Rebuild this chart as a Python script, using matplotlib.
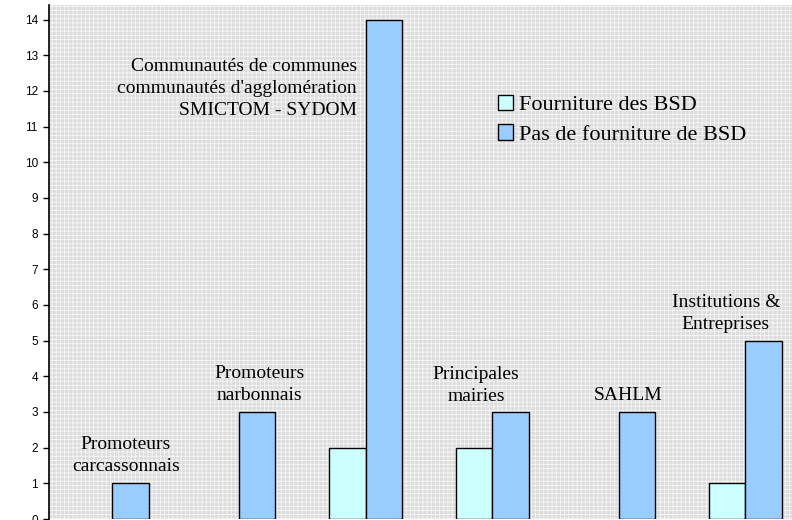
import matplotlib.pyplot as plt
import numpy as np
from matplotlib.patches import Patch

groupes = ["Promoteurs\ncarcassonnais", "Promoteurs\nnarbonnais",
           "Communautés de communes\ncommunautés d'agglomération\nSMICTOM - SYDOM",
           "Principales\nmairies", "SAHLM", "Institutions &\nEntreprises"]
fourniture = [0, 0, 2, 2, 0, 1]
pas_fourniture = [1, 3, 14, 3, 3, 5]
series = ["Fourniture des BSD", "Pas de fourniture de BSD"]
couleurs = ["#ccffff", "#99ccff"]

plt.rcParams['hatch.linewidth'] = 0.6
fig = plt.figure(figsize=(7.92, 5.2), dpi=100)
ax = fig.add_axes([49 / 792, 1 / 520, 1 - 49 / 792, 514 / 520])
ax.set_facecolor("#dcdcdc")
ax.patch.set_hatch("++++")
ax.patch.set_edgecolor("#f6f6f6")

x = np.arange(len(groupes))
w = 0.288
# pas de contour pour les barres nulles
lw0 = [1 if v else 0 for v in fourniture]
lw1 = [1 if v else 0 for v in pas_fourniture]
ax.bar(x - w / 2, fourniture, w, color=couleurs[0], edgecolor='black', linewidth=lw0, zorder=3)
ax.bar(x + w / 2, pas_fourniture, w, color=couleurs[1], edgecolor='black', linewidth=lw1, zorder=3)

# étiquettes des groupes, posées à la main au-dessus des barres
pos_txt = [(0.108, 1.79, 'center'), (1.159, 3.78, 'center'), (1.933, 12.08, 'right'),
           (2.873, 3.73, 'center'), (4.073, 3.45, 'center'), (4.847, 5.75, 'center')]
for g, (tx, ty, ha) in zip(groupes, pos_txt):
    ax.text(tx, ty, g, ha=ha, va='center', multialignment=ha, fontsize=14,
            family='Liberation Serif', linespacing=1.38, zorder=4)

ax.set_xlim(-0.5, -0.5 + 743 / 126.6)
ax.set_ylim(0, 14.41)
ax.set_yticks(range(15))
ax.set_xticks([])
ax.tick_params(axis='y', labelsize=8.5, length=4.5, width=1)
for lab in ax.get_yticklabels():
    lab.set_family('Liberation Sans')
for s in ['top', 'right', 'bottom']:
    ax.spines[s].set_visible(False)
ax.spines['left'].set_linewidth(1.2)

handles = [Patch(facecolor=c, edgecolor='black', label=l) for c, l in zip(couleurs, series)]
leg = ax.legend(handles=handles, loc='upper left', bbox_to_anchor=(449 / 743, 1 - 90 / 514),
                frameon=False, prop={'family': 'Liberation Serif', 'size': 16},
                handlelength=0.68, handleheight=0.68, handletextpad=0.27, labelspacing=0.4,
                borderpad=0, borderaxespad=0)

fig.savefig("out.png", dpi=100)
